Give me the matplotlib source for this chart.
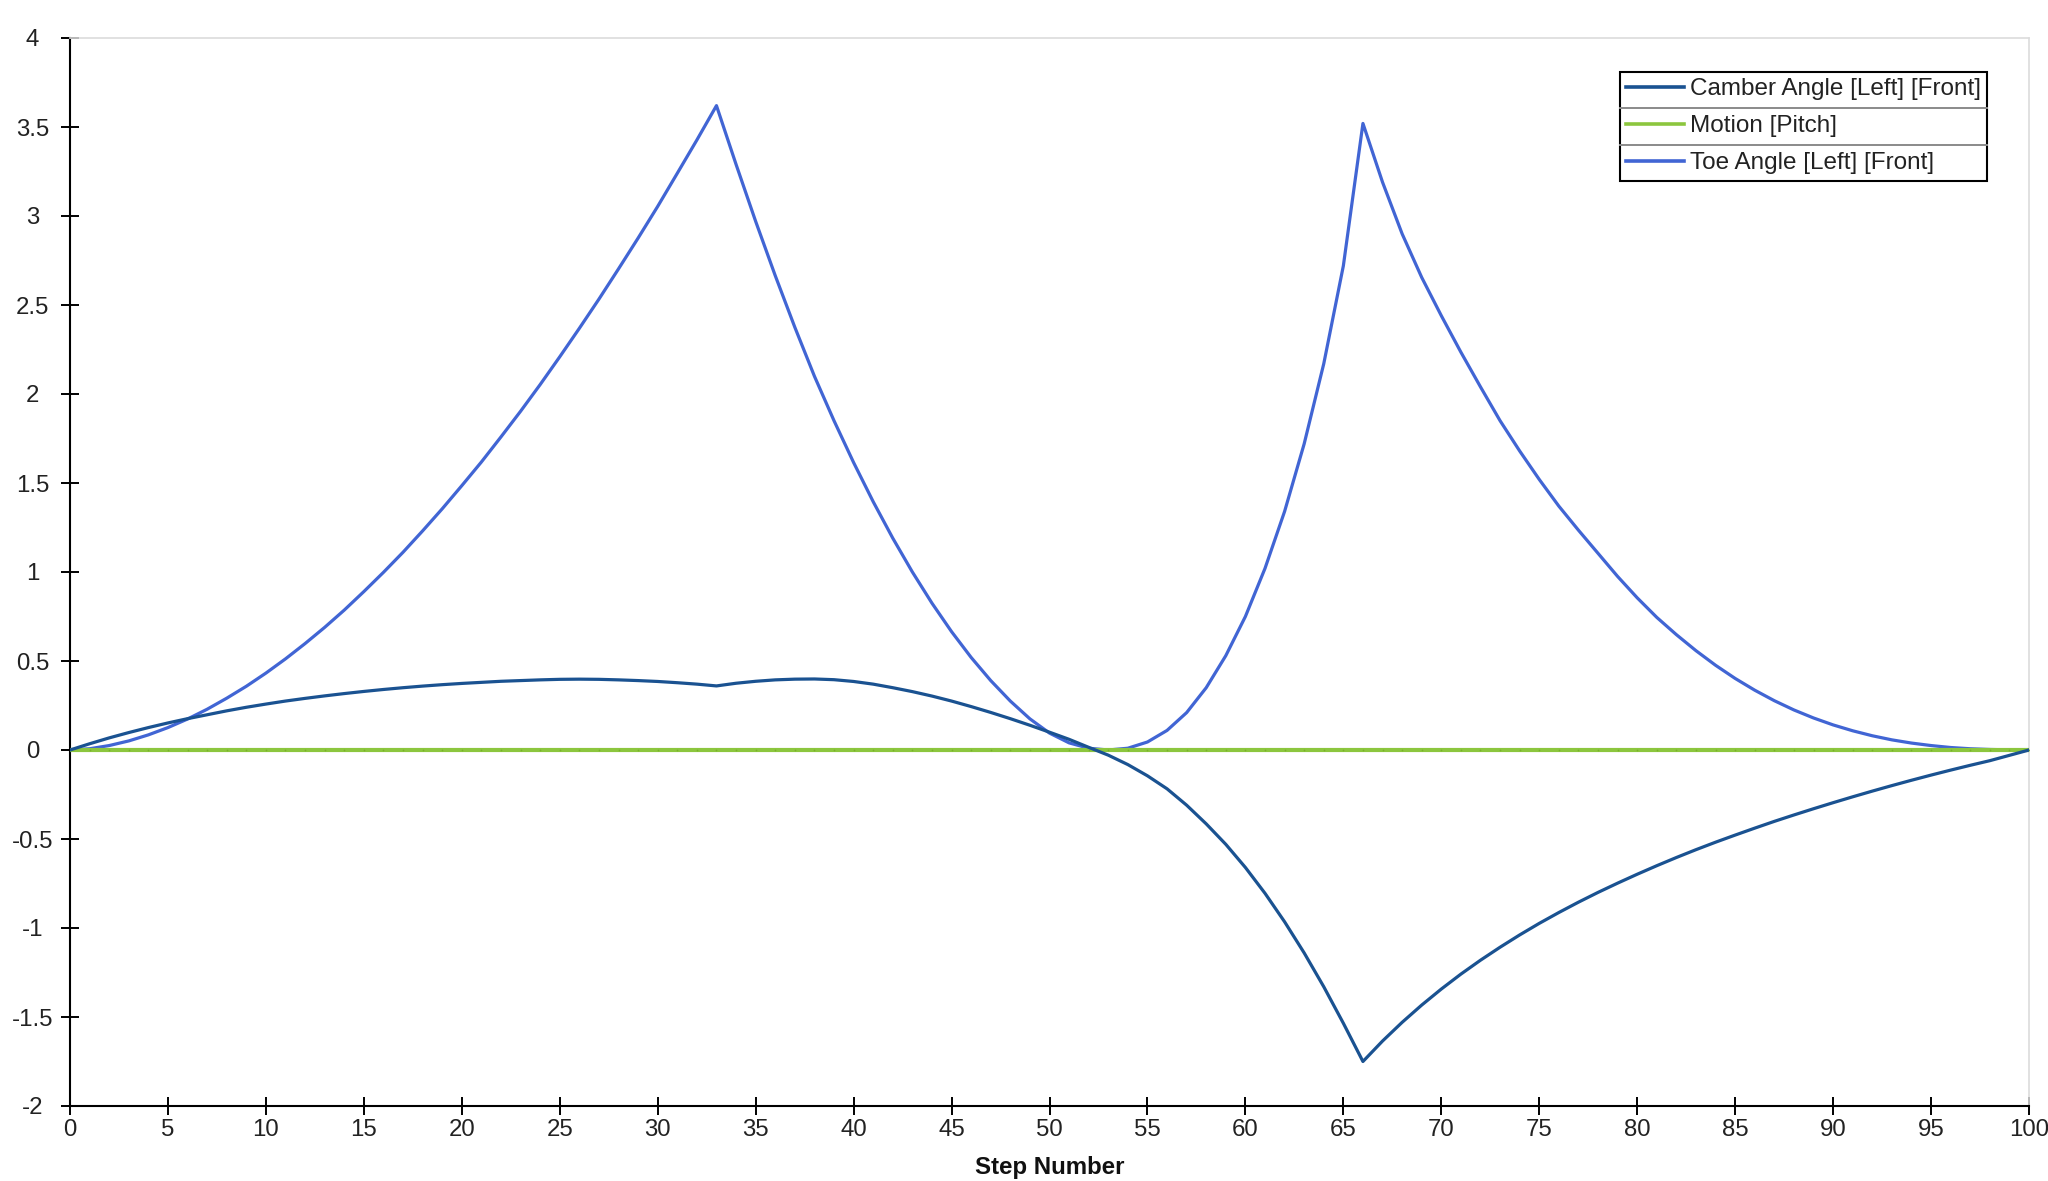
import matplotlib
matplotlib.use('Agg')
import matplotlib.pyplot as plt
from matplotlib.lines import Line2D
from matplotlib.ticker import MultipleLocator, FuncFormatter

plt.rcParams['font.family'] = ['Liberation Sans', 'DejaVu Sans']
plt.rcParams['axes.unicode_minus'] = False

# Step numbers 0..100
steps = list(range(101))

camber = [
    0.0, 0.035, 0.068, 0.098, 0.126, 0.152, 0.176, 0.198, 0.22, 0.24,
    0.258, 0.275, 0.29, 0.304, 0.317, 0.329, 0.34, 0.35, 0.359, 0.367,
    0.374, 0.38, 0.386, 0.39, 0.394, 0.397, 0.398, 0.397, 0.394, 0.39,
    0.385, 0.378, 0.37, 0.36, 0.375, 0.386, 0.394, 0.398, 0.399, 0.395,
    0.385, 0.37, 0.35, 0.328, 0.303, 0.275, 0.244, 0.211, 0.176, 0.139,
    0.10, 0.06, 0.015, -0.029, -0.082, -0.145, -0.218, -0.31, -0.415, -0.53,
    -0.66, -0.805, -0.965, -1.14, -1.33, -1.535, -1.75, -1.635, -1.53, -1.433,
    -1.343, -1.259, -1.181, -1.108, -1.039, -0.974, -0.913, -0.855, -0.80, -0.748,
    -0.698, -0.65, -0.604, -0.56, -0.518, -0.478, -0.439, -0.401, -0.365, -0.33,
    -0.296, -0.263, -0.231, -0.20, -0.17, -0.141, -0.113, -0.086, -0.06, -0.03,
    0.0,
]

pitch = [0.0] * 101

toe = [
    0.0, 0.007, 0.025, 0.051, 0.085, 0.126, 0.174, 0.229, 0.291, 0.358,
    0.432, 0.512, 0.598, 0.689, 0.786, 0.89, 0.998, 1.111, 1.231, 1.355,
    1.485, 1.618, 1.759, 1.903, 2.053, 2.209, 2.369, 2.533, 2.703, 2.876,
    3.054, 3.24, 3.427, 3.62, 3.29, 2.97, 2.665, 2.375, 2.10, 1.85,
    1.615, 1.395, 1.19, 1.00, 0.825, 0.665, 0.52, 0.39, 0.275, 0.175,
    0.095, 0.04, 0.01, 0.0, 0.01, 0.045, 0.11, 0.21, 0.35, 0.53,
    0.75, 1.02, 1.34, 1.72, 2.17, 2.72, 3.52, 3.19, 2.90, 2.655,
    2.44, 2.235, 2.04, 1.85, 1.68, 1.52, 1.37, 1.235, 1.105, 0.975,
    0.855, 0.745, 0.648, 0.558, 0.476, 0.402, 0.336, 0.277, 0.225, 0.18,
    0.141, 0.108, 0.08, 0.057, 0.039, 0.025, 0.014, 0.007, 0.003, 0.001,
    0.0,
]

labels = ['Camber Angle [Left] [Front]', 'Motion [Pitch]', 'Toe Angle [Left] [Front]']
colors = ['#1a5291', '#8cc63e', '#4165d4']

fig = plt.figure(figsize=(20.48, 11.81), dpi=100)
ax = fig.add_axes([70 / 2048, 1 - 1106 / 1181, (2029 - 70) / 2048, (1106 - 38) / 1181])

l_toe, = ax.plot(steps, toe, color=colors[2], lw=2.3, zorder=2)
l_pitch, = ax.plot(steps, pitch, color=colors[1], lw=3.0, zorder=3,
                   marker='.', markersize=2.5, markeredgewidth=0, markerfacecolor='#77b02a')
l_camber, = ax.plot(steps, camber, color=colors[0], lw=2.3, zorder=4)

ax.set_xlim(0, 100)
ax.set_ylim(-2, 4)
ax.xaxis.set_major_locator(MultipleLocator(5))
ax.yaxis.set_major_locator(MultipleLocator(0.5))
ax.yaxis.set_major_formatter(FuncFormatter(lambda v, p: '%g' % v))

for s in ['left', 'bottom']:
    ax.spines[s].set_color('black')
    ax.spines[s].set_linewidth(1.5)
for s in ['top', 'right']:
    ax.spines[s].set_color('#dcdcdc')
    ax.spines[s].set_linewidth(1.2)

ax.tick_params(axis='both', direction='inout', length=13, width=1.4, color='black',
               labelsize=17.3, labelcolor='#222222')
ax.tick_params(axis='x', pad=3)
ax.tick_params(axis='y', pad=20.5)
for lab in ax.get_yticklabels():
    lab.set_horizontalalignment('center')

ax.set_xlabel('Step Number', fontsize=17.3, fontweight='bold', color='#111111', labelpad=11)

leg = ax.legend([l_camber, l_pitch, l_toe], labels, loc='upper right',
                bbox_to_anchor=(0.9786, 0.968), borderaxespad=0, frameon=True,
                fancybox=False, edgecolor='black', framealpha=1, fontsize=17.5,
                handlelength=2.4, handletextpad=0.25, borderpad=0.25, labelspacing=0.62)
leg.get_frame().set_linewidth(1.5)
for t in leg.get_texts():
    t.set_color('#222222')
for h in leg.legend_handles:
    h.set_marker('')
    h.set_linewidth(2.6)

# row separators inside the legend
fig.canvas.draw()
rend = fig.canvas.get_renderer()
fb = leg.get_frame().get_window_extent(rend)
tb = [t.get_window_extent(rend) for t in leg.get_texts()]
inv = fig.transFigure.inverted()
for i in range(len(tb) - 1):
    ym = (tb[i].y0 + tb[i + 1].y1) / 2
    (x0, y0), (x1, y1) = inv.transform([(fb.x0, ym), (fb.x1, ym)])
    fig.add_artist(Line2D([x0, x1], [y0, y1], color='#8a8a8a', lw=1.4, zorder=10))

fig.savefig('out.png', dpi=100)
